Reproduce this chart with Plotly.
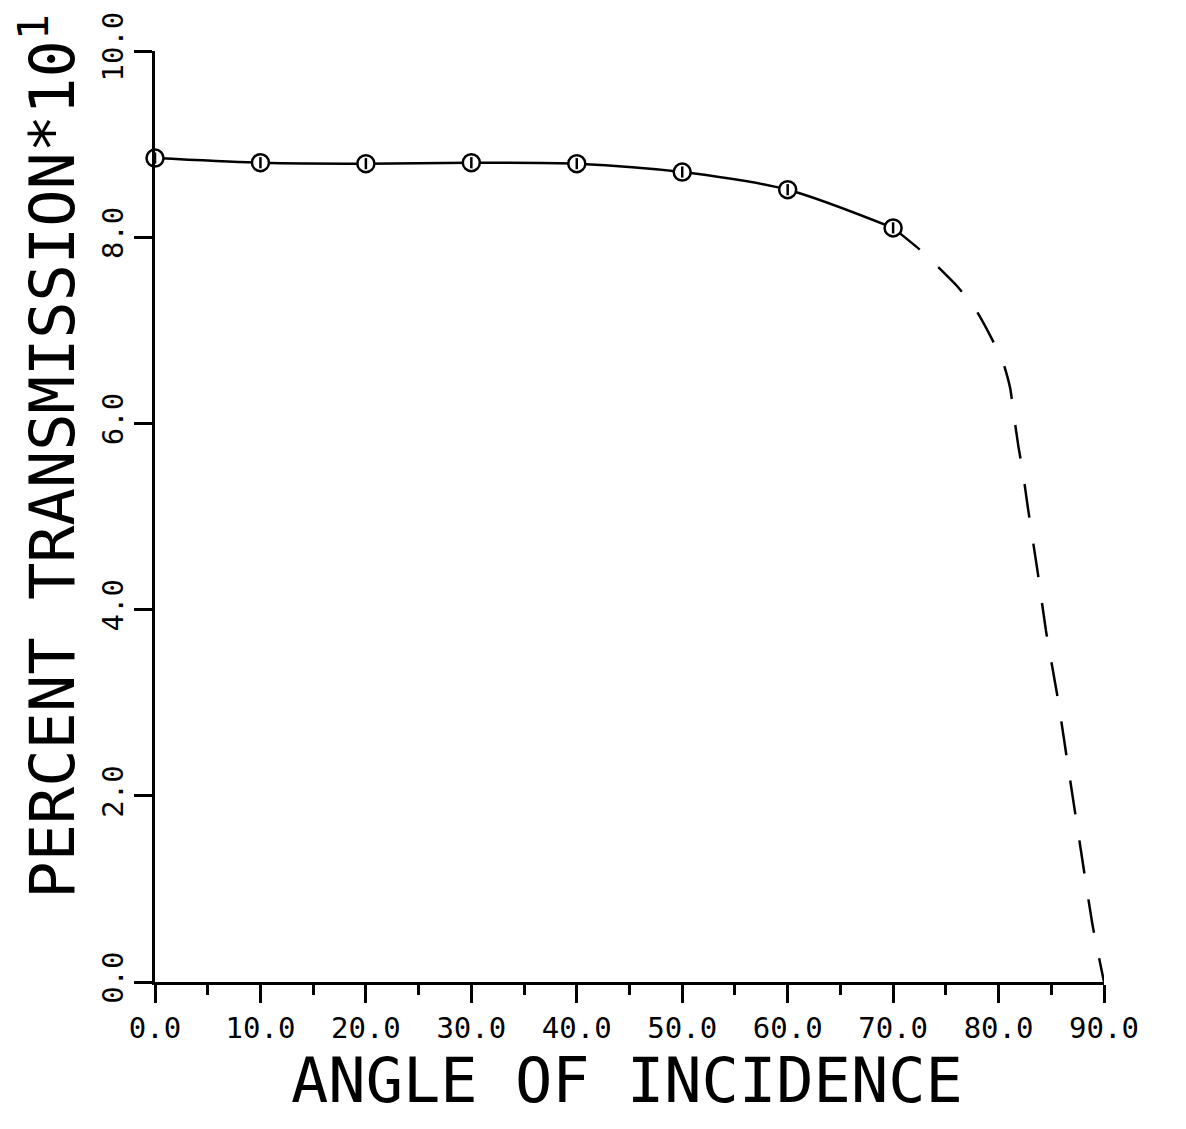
import plotly.graph_objects as go

# Computed transmission at the sampled angles (percent / 10)
angle_pts = [0, 10, 20, 30, 40, 50, 60, 70]
trans_pts = [8.85, 8.80, 8.79, 8.80, 8.79, 8.70, 8.51, 8.10]

# Extrapolated tail toward grazing incidence
tail_angle = [70, 72.7, 76.1, 77.9, 79.4, 80.45, 81.1, 81.5, 81.9, 82.3, 82.8,
              83.7, 84.5, 85.6, 86.6, 87.8, 88.9, 90]
tail_trans = [8.10, 7.85, 7.47, 7.21, 6.90, 6.65, 6.38, 6.05, 5.74, 5.48, 5.08,
              4.41, 3.77, 3.06, 2.31, 1.42, 0.62, 0.0]

x_ticks = [0, 10, 20, 30, 40, 50, 60, 70, 80, 90]
x_labels = ["0.0", "10.0", "20.0", "30.0", "40.0", "50.0", "60.0", "70.0", "80.0", "90.0"]
y_ticks = [0, 2, 4, 6, 8, 10]
y_labels = ["0.0", "2.0", "4.0", "6.0", "8.0", "10.0"]

FONT = "DejaVu Sans Mono"
INK = "black"

fig = go.Figure()

# dashed extrapolation
fig.add_trace(go.Scatter(
    x=tail_angle, y=tail_trans, mode="lines",
    line=dict(color=INK, width=2.5, dash="34px,26px", shape="spline", smoothing=0.5),
    cliponaxis=False, showlegend=False, hoverinfo="skip",
))

# solid curve with circled data points
fig.add_trace(go.Scatter(
    x=angle_pts, y=trans_pts, mode="lines+markers",
    line=dict(color=INK, width=2.5, shape="spline", smoothing=0.8),
    marker=dict(symbol="circle", size=17, color="white", line=dict(color=INK, width=2.5)),
    cliponaxis=False, showlegend=False,
))

# small stroke inside each circle
fig.add_trace(go.Scatter(
    x=angle_pts, y=trans_pts, mode="markers",
    marker=dict(symbol="line-ns", size=8, color=INK, line=dict(color=INK, width=2.5)),
    cliponaxis=False, showlegend=False, hoverinfo="skip",
))

fig.update_xaxes(
    range=[0, 90], tickmode="array", tickvals=x_ticks, ticktext=x_labels,
    showline=True, linecolor=INK, linewidth=2.5, mirror=False,
    ticks="outside", ticklen=18, tickwidth=2.5, tickcolor=INK,
    minor=dict(dtick=5, ticks="outside", ticklen=10, tickwidth=2.5, tickcolor=INK),
    showgrid=False, zeroline=False,
    tickfont=dict(family=FONT, size=29, color=INK),
)
fig.update_yaxes(
    range=[0, 10], tickmode="array", tickvals=y_ticks, ticktext=y_labels,
    showline=True, linecolor=INK, linewidth=2.5, mirror=False,
    ticks="outside", ticklen=18, tickwidth=2.5, tickcolor=INK, tickangle=-90,
    showgrid=False, zeroline=False,
    tickfont=dict(family=FONT, size=29, color=INK),
)

fig.add_annotation(
    text="ANGLE OF INCIDENCE", xref="paper", yref="paper", x=0.497, y=-0.0645,
    xanchor="center", yanchor="top", showarrow=False,
    font=dict(family=FONT, size=62, color=INK),
)
fig.add_annotation(
    text="PERCENT TRANSMISSION*10<sup>1</sup>", xref="paper", yref="paper",
    x=-0.112, y=0.565, xanchor="center", yanchor="middle", showarrow=False,
    textangle=-90, font=dict(family=FONT, size=62, color=INK),
)

fig.update_layout(
    width=1186, height=1129,
    margin=dict(l=155, r=82, t=40, b=147),
    paper_bgcolor="white", plot_bgcolor="white",
    showlegend=False,
)

fig.write_html("out.html")
